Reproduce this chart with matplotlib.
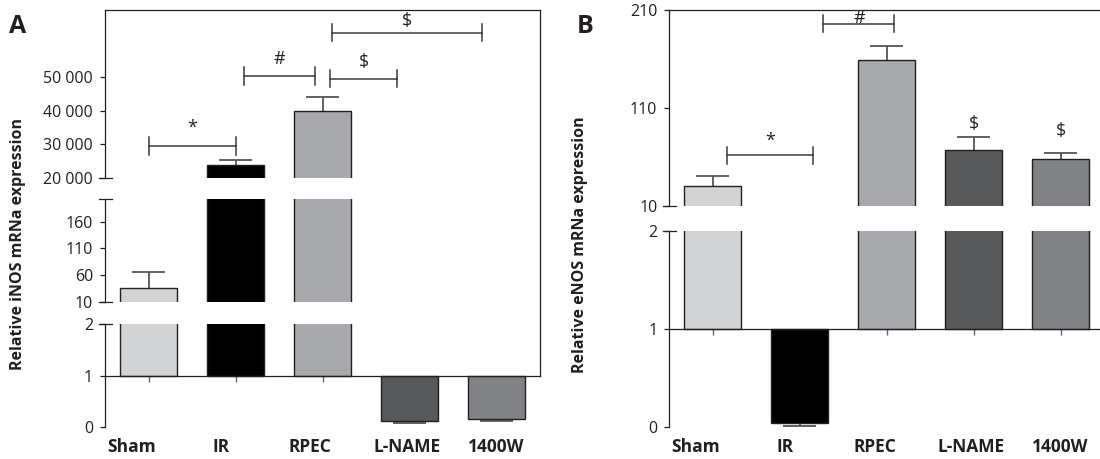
import matplotlib
matplotlib.use('Agg')
import matplotlib.pyplot as plt
from matplotlib.lines import Line2D

# ---------------- data ----------------
categories = ['Sham', 'IR', 'RPEC', 'L-NAME', '1400W']
inos_values = [36, 23800, 40000, 0.12, 0.15]
inos_errors = [29, 1500, 4000, 0.05, 0.035]
enos_values = [30, 0.035, 159, 67, 58]
enos_errors = [10, 0.025, 14.5, 13, 6]
bar_colors = ['#d1d3d4', '#000000', '#a7a9ac', '#58595b', '#808285']

inos_upper_ticks = [20000, 30000, 40000, 50000]
inos_upper_labels = ['20 000', '30 000', '40 000', '50 000']
inos_mid_ticks = [10, 60, 110, 160]
low_ticks = [0, 1, 2]
enos_upper_ticks = [10, 110, 210]

# (x start, x end, bracket y, label, label baseline y)
inos_brackets = [(0.0, 1.0, 29500, '*', 33400),
                 (1.10, 1.91, 50300, '#', 53800),
                 (2.09, 2.86, 49550, '$', 53000),
                 (2.11, 3.83, 63250, '$', 65100)]
enos_brackets = [(0.16, 1.15, 61.5, '*', 71),
                 (1.27, 2.09, 196, '#', 196.4)]
enos_marks = [(3, '$', 87.9), (4, '$', 81.2)]

# ---------------- style ----------------
plt.rcParams['font.family'] = ['Open Sans', 'DejaVu Sans']
W, H = 1100, 459
fig = plt.figure(figsize=(W / 100, H / 100), dpi=100)

EDGE = '#231f20'
ERRC = '#555555'
BRC = '#3a3a3a'
TICK_FS = 11.5
BAR_W = 0.655
CAP_HW = 0.19
# category label placement (in bar-index units; labels sit on a slightly wider pitch)
LABEL_POS = [-0.20, 0.83, 1.86, 2.97, 4.0]


def px_axes(x0, x1, y0, y1):
    return fig.add_axes([x0 / W, 1 - y1 / H, (x1 - x0) / W, (y1 - y0) / H])


def fig_line(xs, ys, **kw):
    fig.add_artist(Line2D([x / W for x in xs], [1 - y / H for y in ys],
                          transform=fig.transFigure, color=EDGE, lw=0.9, **kw))


def draw_segment(ax, values, errors, ylim, ticks, labels=None, baseline=False, top=False):
    x = list(range(len(values)))
    heights = [v - 1 for v in values]
    ax.bar(x, heights, bottom=1, width=BAR_W, color=bar_colors,
           edgecolor=EDGE, linewidth=1.0, zorder=2)
    ends = [v + e if v >= 1 else v - e for v, e in zip(values, errors)]
    ax.vlines(x, values, ends, color=ERRC, lw=1.3, zorder=1)
    ax.hlines(ends, [xi - CAP_HW for xi in x], [xi + CAP_HW for xi in x],
              color=ERRC, lw=1.3, zorder=1)
    ax.set_xlim(-0.5, 4.5)
    ax.set_ylim(*ylim)
    for s in ['right', 'top', 'bottom']:
        ax.spines[s].set_visible(False)
    ax.spines['left'].set_linewidth(0.9)
    ax.spines['left'].set_color(EDGE)
    if top:
        ax.spines['top'].set_visible(True)
        ax.spines['top'].set_linewidth(0.9)
        ax.spines['top'].set_color(EDGE)
    ax.set_yticks(ticks)
    ax.set_yticklabels(labels if labels is not None else [str(t) for t in ticks])
    ax.tick_params(axis='y', direction='out', length=3.6, width=0.9, color=EDGE,
                   labelsize=TICK_FS, pad=5, labelcolor='#231f20')
    if baseline:
        ax.spines['bottom'].set_visible(True)
        ax.spines['bottom'].set_position(('data', 1))
        ax.spines['bottom'].set_linewidth(0.9)
        ax.spines['bottom'].set_color(EDGE)
        ax.set_xticks(x)
        ax.tick_params(axis='x', direction='out', length=4.3, width=1.0,
                       color='#666666', labelbottom=False)
        for lx, lab in zip(LABEL_POS, categories):
            ax.annotate(lab, xy=(lx, H - 452), xycoords=('data', 'figure pixels'),
                        ha='center', va='baseline', fontsize=12.5, fontweight='bold',
                        color='#231f20', annotation_clip=False)
    else:
        ax.set_xticks([])
    ax.patch.set_alpha(0)


def draw_bracket(ax, x1, x2, y, cap):
    ax.plot([x1, x2], [y, y], color=BRC, lw=1.1, clip_on=False, zorder=3)
    ax.plot([x1, x1], [y - cap, y + cap], color=BRC, lw=1.1, clip_on=False, zorder=3)
    ax.plot([x2, x2], [y - cap, y + cap], color=BRC, lw=1.1, clip_on=False, zorder=3)


# ---------------- panel A ----------------
AX0, AX1 = 105, 540
a1 = px_axes(AX0, AX1, 10, 178)
a2 = px_axes(AX0, AX1, 199.3, 301.7)
a3 = px_axes(AX0, AX1, 324, 427)
draw_segment(a1, inos_values, inos_errors, (20000, 70000), inos_upper_ticks,
             inos_upper_labels, top=True)
draw_segment(a2, inos_values, inos_errors, (10, 202), inos_mid_ticks)
draw_segment(a3, inos_values, inos_errors, (0, 2), low_ticks, baseline=True)
for x1, x2, y, lab, ly in inos_brackets:
    draw_bracket(a1, x1, x2, y, 2590)
    a1.text((x1 + x2) / 2, ly, lab, ha='center', va='baseline', fontsize=13,
            color='#231f20', clip_on=False)
# right frame line of panel A
fig_line([AX1, AX1], [10, 376])
for yb in [178, 199.3, 301.7, 324]:
    fig_line([AX0 - 6, AX0 + 7], [yb, yb])

fig.text(18 / W, 1 - 244.5 / H, 'Relative iNOS mRNa expression', rotation=90,
         ha='center', va='center', fontsize=11.5, fontweight='bold', color='#231f20')
fig.text(18 / W, 1 - 33 / H, 'A', ha='center', va='baseline', fontsize=18,
         fontweight='bold', color='#231f20')

# ---------------- panel B ----------------
BX0, BX1 = 669.3, 1104
b1 = px_axes(BX0, BX1, 10, 205.7)
b2 = px_axes(BX0, BX1, 231, 426.7)
draw_segment(b1, enos_values, enos_errors, (10, 210), enos_upper_ticks, top=True)
draw_segment(b2, enos_values, enos_errors, (0, 2), low_ticks, baseline=True)
for x1, x2, y, lab, ly in enos_brackets:
    draw_bracket(b1, x1, x2, y, 8.9)
    b1.text((x1 + x2) / 2, ly, lab, ha='center', va='baseline', fontsize=13,
            color='#231f20', clip_on=False)
for xi, lab, ly in enos_marks:
    b1.text(xi, ly, lab, ha='center', va='baseline', fontsize=13,
            color='#231f20', clip_on=False)
for yb in [205.7, 231]:
    fig_line([BX0 - 6, BX0 + 7], [yb, yb])

fig.text(580 / W, 1 - 244.5 / H, 'Relative eNOS mRNa expression', rotation=90,
         ha='center', va='center', fontsize=11.5, fontweight='bold', color='#231f20')
fig.text(585 / W, 1 - 33 / H, 'B', ha='center', va='baseline', fontsize=18,
         fontweight='bold', color='#231f20')

fig.savefig('out.png', dpi=100)
